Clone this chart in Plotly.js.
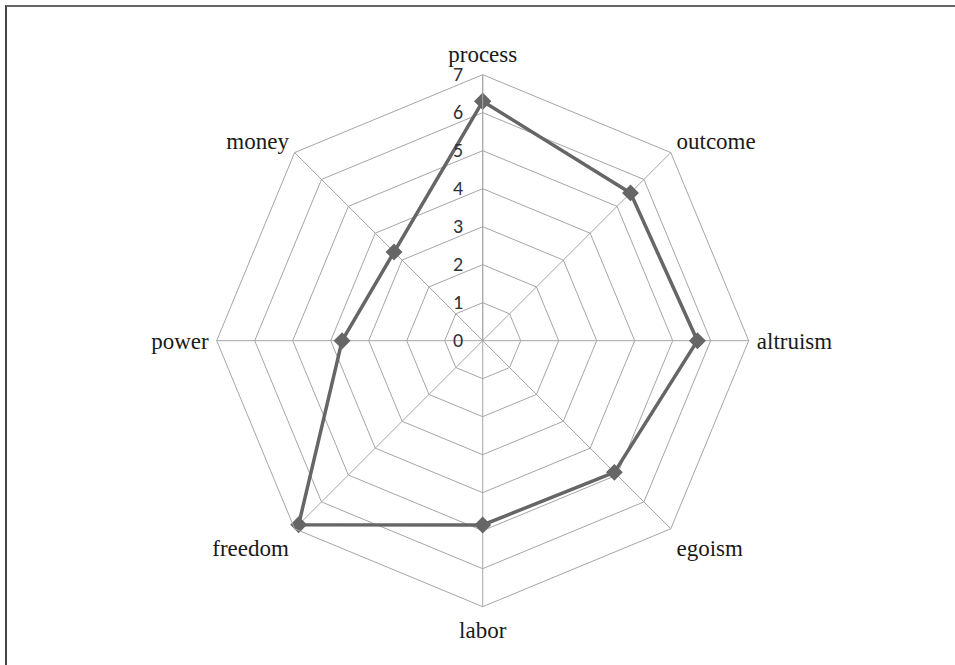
<!DOCTYPE html>
<html>
<head>
<meta charset="utf-8">
<script src="https://cdn.plot.ly/plotly-3.0.1.min.js"></script>
<style>
html,body{margin:0;padding:0;background:#fff;}
#wrap{position:relative;width:955px;height:665px;}
#chart{position:absolute;left:0;top:0;width:955px;height:665px;}
#frame{position:absolute;left:5px;top:5px;width:955px;height:665px;border-top:2px solid #666;border-left:2px solid #444;pointer-events:none;}
</style>
</head>
<body>
<div id="wrap"><div id="chart"></div><div id="frame"></div></div>
<script>
const categories = ["process", "outcome", "altruism", "egoism", "labor", "freedom", "power", "money"];
const values = [6.3, 5.5, 5.65, 4.9, 4.85, 6.85, 3.7, 3.3];
const radialTicks = [0, 1, 2, 3, 4, 5, 6, 7];

const r = values.concat([values[0]]);
const theta = categories.concat([categories[0]]);

const trace = {
  type: "scatterpolar",
  r: r,
  theta: theta,
  mode: "lines+markers",
  line: {color: "#666666", width: 3.5},
  marker: {symbol: "diamond", size: 13, color: "#666666"},
  hoverinfo: "skip",
  showlegend: false
};

const layout = {
  width: 955,
  height: 665,
  margin: {l: 0, r: 0, t: 0, b: 0},
  paper_bgcolor: "#ffffff",
  plot_bgcolor: "#ffffff",
  showlegend: false,
  polar: {
    domain: {x: [0.2269, 0.7840], y: [0.0877, 0.8877]},
    bgcolor: "#ffffff",
    gridshape: "linear",
    angularaxis: {
      categoryorder: "array",
      categoryarray: categories,
      rotation: 90,
      direction: "clockwise",
      showline: true,
      linecolor: "#a6a6a6",
      linewidth: 1,
      gridcolor: "#a6a6a6",
      gridwidth: 1,
      ticks: "outside",
      ticklen: 3,
      tickcolor: "rgba(0,0,0,0)",
      tickfont: {family: "Liberation Serif, Times New Roman, serif", size: 23, color: "#1a1a1a"}
    },
    radialaxis: {
      range: [0, 7],
      tickvals: radialTicks,
      ticktext: radialTicks.map(String),
      angle: 90,
      tickangle: 90,
      side: "counterclockwise",
      showline: true,
      linecolor: "#a6a6a6",
      linewidth: 1,
      gridcolor: "#a6a6a6",
      gridwidth: 1,
      ticks: "outside",
      ticklen: 12,
      tickcolor: "rgba(0,0,0,0)",
      tickfont: {family: "Carlito, Open Sans, Liberation Sans, sans-serif", size: 20, color: "#333333"}
    }
  }
};

Plotly.newPlot("chart", [trace], layout, {displayModeBar: false, staticPlot: true});
</script>
</body>
</html>
